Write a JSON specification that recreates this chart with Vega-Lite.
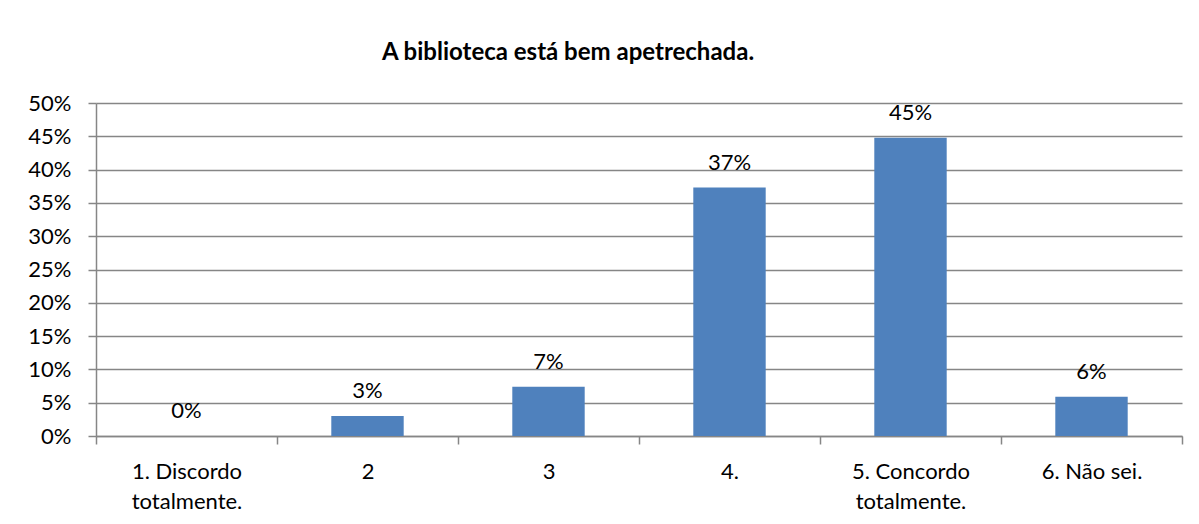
{
  "$schema": "https://vega.github.io/schema/vega-lite/v6.json",
  "width": 1086,
  "height": 333,
  "autosize": {"type": "none"},
  "padding": {"left": 96, "top": 103, "right": 17, "bottom": 88},
  "background": "white",
  "title": {
    "text": "A biblioteca está bem apetrechada.",
    "font": "Lato",
    "fontSize": 24,
    "fontWeight": "bold",
    "color": "#000000",
    "anchor": "middle",
    "frame": "group",
    "dx": -71,
    "offset": 27
  },
  "data": {
    "values": [
      {"resposta": "1. Discordo|totalmente.", "pct": 0},
      {"resposta": "2", "pct": 0.03},
      {"resposta": "3", "pct": 0.074},
      {"resposta": "4.", "pct": 0.373},
      {"resposta": "5. Concordo|totalmente.", "pct": 0.448},
      {"resposta": "6. Não sei.", "pct": 0.059}
    ]
  },
  "encoding": {
    "x": {
      "field": "resposta",
      "type": "nominal",
      "sort": null,
      "scale": {"paddingInner": 0, "paddingOuter": 0},
      "axis": {
        "title": null,
        "labelAngle": 0,
        "labelExpr": "split(datum.label, '|')",
        "labelFont": "Lato",
        "labelFontSize": 22,
        "labelColor": "#000000",
        "labelLineHeight": 30,
        "labelPadding": 17,
        "tickBand": "extent",
        "tickSize": 8,
        "tickColor": "#868686",
        "tickWidth": 1.5,
        "domainColor": "#868686",
        "domainWidth": 1.5,
        "grid": false
      }
    },
    "y": {
      "field": "pct",
      "type": "quantitative",
      "scale": {"domain": [0, 0.5], "nice": false},
      "axis": {
        "title": null,
        "values": [0, 0.05, 0.1, 0.15, 0.2, 0.25, 0.3, 0.35, 0.4, 0.45, 0.5],
        "format": ".0%",
        "labelFont": "Lato",
        "labelFontSize": 22,
        "labelColor": "#000000",
        "labelPadding": 17,
        "tickSize": 8,
        "tickColor": "#868686",
        "tickWidth": 1.5,
        "domainColor": "#868686",
        "domainWidth": 1.5,
        "grid": true,
        "gridColor": "#868686",
        "gridWidth": 1.5
      }
    }
  },
  "layer": [
    {"mark": {"type": "bar", "color": "#4F81BD", "width": {"band": 0.4}}},
    {
      "mark": {"type": "text", "font": "Lato", "fontSize": 22, "color": "#000000", "baseline": "alphabetic", "dy": -18},
      "encoding": {"text": {"field": "pct", "type": "quantitative", "format": ".0%"}}
    }
  ],
  "config": {"view": {"stroke": null}}
}
